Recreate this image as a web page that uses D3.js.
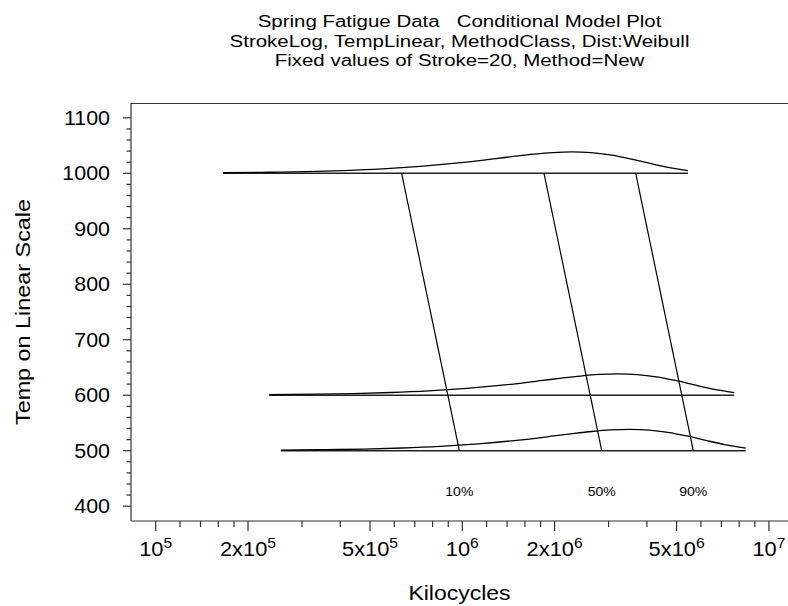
<!DOCTYPE html>
<html>
<head>
<meta charset="utf-8">
<script src="https://cdn.jsdelivr.net/npm/d3@7/dist/d3.min.js"></script>
<style>
  html, body { margin: 0; padding: 0; background: #fff; }
  svg { display: block; font-family: "Liberation Sans", Arial, Helvetica, sans-serif; }
  text { white-space: pre; }
</style>
</head>
<body>
<svg id="chart" width="788" height="606"></svg>
<script>
// Title lines
const titleLines = [
  "Spring Fatigue Data   Conditional Model Plot",
  "StrokeLog, TempLinear, MethodClass, Dist:Weibull",
  "Fixed values of Stroke=20, Method=New"
];

// Temperature levels with a fitted life distribution
const temps = [1000, 600, 500];

// Life quantiles (kilocycles) at each temperature
const quantileNames = ["10%", "50%", "90%"];
const q10 = [6.34e5, 8.97e5, 9.78e5];
const q50 = [1.847e6, 2.613e6, 2.849e6];
const q90 = [3.678e6, 5.197e6, 5.668e6];

// Density curve at each temperature: mode and 1%..99% extent (kilocycles)
const modeK  = [2.28e6, 3.23e6, 3.52e6];
const startK = [1.658e5, 2.347e5, 2.559e5];
const endK   = [5.445e6, 7.705e6, 8.40e6];

// Shared density profile: offset from mode (decades) and height (temperature units)
const profOffset = [-1.1385, -0.99, -0.866, -0.7425, -0.619, -0.495, -0.371, -0.2475, -0.186, -0.124, -0.062, 0, 0.062, 0.124, 0.186, 0.2475, 0.309, 0.378];
const profHeight = [1.0, 1.9, 3.0, 4.9, 7.9, 12.4, 18.6, 26.6, 30.8, 34.6, 37.4, 38.5, 37.2, 33.2, 26.6, 18.7, 11.1, 4.8];

// Axis ticks
const xMajorTicks = [1e5, 2e5, 5e5, 1e6, 2e6, 5e6, 1e7];
const xMinorTicks = [1.2e5, 1.4e5, 1.6e5, 1.8e5, 3e5, 4e5, 6e5, 7e5, 8e5, 9e5,
                     1.2e6, 1.4e6, 1.6e6, 1.8e6, 3e6, 4e6, 6e6, 7e6, 8e6, 9e6];
const yMajorTicks = [400, 500, 600, 700, 800, 900, 1000, 1100];
const yMinorTicks = d3.range(420, 1100, 20).filter(v => v % 100 !== 0);

const svg = d3.select("#chart");
const plotL = 131, plotR = 788, plotT = 103, plotB = 521;

const x = d3.scaleLog().domain([Math.pow(10, 4.9194), Math.pow(10, 7.0623)]).range([plotL, plotR]);
const y = d3.scaleLinear().domain([373.3, 1126.7]).range([plotB, plotT]);

const ink = "#000";
const axisInk = "#333";

// Text is drawn with a wide set width: each label is placed by transform and stretched along its run
const place = (px, py, sx, rot = 0) => `translate(${px},${py}) rotate(${rot}) scale(${sx},1)`;

// Title
svg.append("g").selectAll("text").data(titleLines).join("text")
  .attr("transform", (d, i) => place((plotL + plotR) / 2, 27 + i * 19.5, 1.28))
  .attr("text-anchor", "middle")
  .attr("font-size", 16)
  .attr("fill", ink)
  .text(d => d);

// Frame: top, left, bottom
const frame = svg.append("g").attr("stroke", axisInk).attr("stroke-width", 1.2).attr("fill", "none");
frame.append("line").attr("x1", plotL).attr("x2", plotR).attr("y1", plotT + 0.5).attr("y2", plotT + 0.5);
frame.append("line").attr("x1", plotL).attr("x2", plotL).attr("y1", plotT).attr("y2", plotB);
frame.append("line").attr("x1", plotL).attr("x2", plotR).attr("y1", plotB).attr("y2", plotB);

// Y axis ticks
const yAxis = svg.append("g").attr("stroke", axisInk).attr("stroke-width", 1.2);
yAxis.selectAll("line.maj").data(yMajorTicks).join("line").attr("class", "maj")
  .attr("x1", plotL - 8).attr("x2", plotL).attr("y1", d => y(d)).attr("y2", d => y(d));
yAxis.selectAll("line.min").data(yMinorTicks).join("line").attr("class", "min")
  .attr("x1", plotL - 4.5).attr("x2", plotL).attr("y1", d => y(d)).attr("y2", d => y(d));
svg.append("g").selectAll("text").data(yMajorTicks).join("text")
  .attr("transform", d => place(110, y(d) + 7, 1.1))
  .attr("text-anchor", "end").attr("font-size", 19.5).attr("fill", ink)
  .text(d => d);

// X axis ticks
const xAxis = svg.append("g").attr("stroke", axisInk).attr("stroke-width", 1.2);
xAxis.selectAll("line.maj").data(xMajorTicks).join("line").attr("class", "maj")
  .attr("x1", d => x(d)).attr("x2", d => x(d)).attr("y1", plotB).attr("y2", plotB + 10);
xAxis.selectAll("line.min").data(xMinorTicks).join("line").attr("class", "min")
  .attr("x1", d => x(d)).attr("x2", d => x(d)).attr("y1", plotB).attr("y2", plotB + 6);

const xLabels = svg.append("g").selectAll("text").data(xMajorTicks).join("text")
  .attr("transform", d => place(x(d), 556, 1.12))
  .attr("text-anchor", "middle").attr("font-size", 19.5).attr("fill", ink);
xLabels.each(function(d) {
  const e = Math.floor(Math.log10(d) + 1e-9);
  const m = Math.round(d / Math.pow(10, e));
  const t = d3.select(this);
  t.append("tspan").text((m === 1 ? "" : m + "x") + "10");
  t.append("tspan").attr("dy", -8).attr("font-size", 14).text(e);
});

// Axis titles
svg.append("text").attr("transform", place((plotL + plotR) / 2, 600, 1.18))
  .attr("text-anchor", "middle").attr("font-size", 19.5).attr("fill", ink).text("Kilocycles");
svg.append("text").attr("transform", place(30, (plotT + plotB) / 2, 1.2, -90))
  .attr("text-anchor", "middle").attr("font-size", 19.5).attr("fill", ink).text("Temp on Linear Scale");

// Baselines and density curves
const plot = svg.append("g").attr("fill", "none");
const curveLine = d3.line().x(d => x(d[0])).y(d => y(d[1])).curve(d3.curveMonotoneX);
temps.forEach((t, i) => {
  plot.append("line")
    .attr("x1", x(startK[i])).attr("x2", x(endK[i]))
    .attr("y1", y(t)).attr("y2", y(t))
    .attr("stroke", "#222").attr("stroke-width", 1.5);
  const pts = profOffset.map((o, j) => [Math.pow(10, Math.log10(modeK[i]) + o), t + profHeight[j]]);
  plot.append("path")
    .attr("d", curveLine(pts))
    .attr("stroke", ink).attr("stroke-width", 1.3);
});

// Quantile lines across temperatures
const quantiles = [q10, q50, q90];
const straightLine = d3.line().x(d => x(d[0])).y(d => y(d[1]));
quantiles.forEach(q => {
  const pts = temps.map((t, i) => [q[i], t]);
  plot.append("path")
    .attr("d", straightLine(pts))
    .attr("stroke", ink).attr("stroke-width", 1.2);
});

// Quantile labels under the lowest temperature
svg.append("g").selectAll("text").data(quantiles).join("text")
  .attr("transform", q => place(x(q[q.length - 1]), y(418), 1.08))
  .attr("text-anchor", "middle").attr("font-size", 13).attr("fill", ink)
  .text((q, i) => quantileNames[i]);
</script>
</body>
</html>
